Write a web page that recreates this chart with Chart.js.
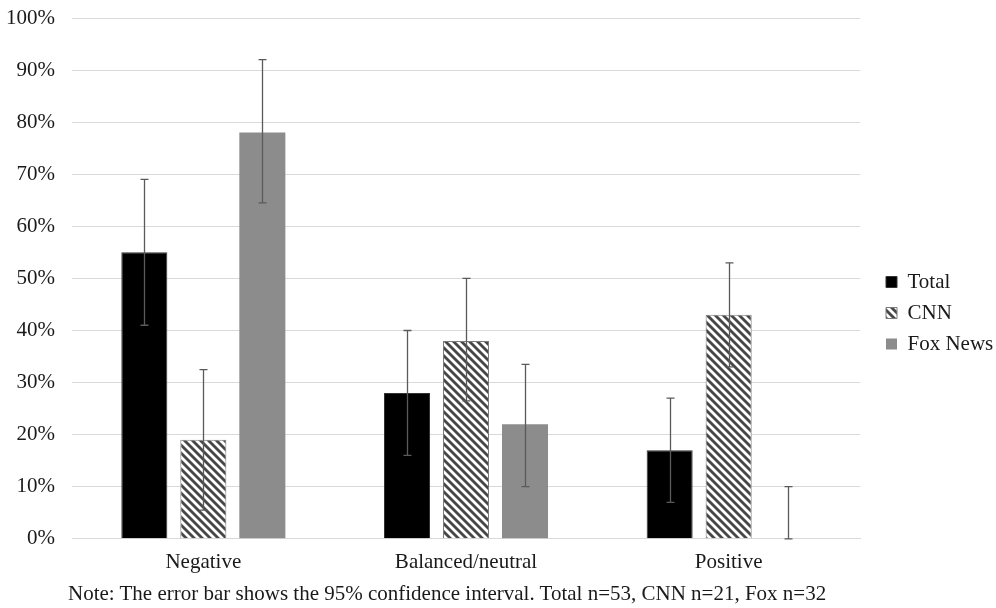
<!DOCTYPE html>
<html>
<head>
<meta charset="utf-8">
<script src="https://cdn.jsdelivr.net/npm/chart.js@4.4.1/dist/chart.umd.min.js"></script>
<style>
    body { margin: 0; background: #fff; }
    #contenedor { position: relative; width: 996px; height: 608px; }
    #nota {
        position: absolute; left: 68px; top: 580px;
        font: 21px 'Liberation Serif', serif; color: #1a1a1a;
        white-space: nowrap; line-height: 26px;
    }
</style>
</head>
<body>
<div id="contenedor">
    <canvas id="graficoTono"></canvas>
    <div id="nota">Note: The error bar shows the 95% confidence interval. Total n=53, CNN n=21, Fox n=32</div>
</div>
<script>
const categorias = ['Negative', 'Balanced/neutral', 'Positive'];

const total = [55, 28, 17];
const totalBajo = [41, 16, 7];
const totalAlto = [69, 40, 27];

const cnn = [19, 38, 43];
const cnnBajo = [5.5, 26.5, 33];
const cnnAlto = [32.5, 50, 53];

const fox = [78, 22, 0];
const foxBajo = [64.5, 10, 0];
const foxAlto = [92, 33.5, 10];

const etiquetasY = ['0%', '10%', '20%', '30%', '40%', '50%', '60%', '70%', '80%', '90%', '100%'];

const fuente = "'Liberation Serif', 'Times New Roman', serif";

function crearRayado() {
    const c = document.createElement('canvas');
    c.width = 8;
    c.height = 8;
    const g = c.getContext('2d');
    g.fillStyle = '#fff';
    g.fillRect(0, 0, 8, 8);
    g.strokeStyle = '#474747';
    g.lineWidth = 2.8;
    [-8, 0, 8].forEach(k => {
        g.beginPath();
        g.moveTo(k - 2, -2);
        g.lineTo(k + 10, 10);
        g.stroke();
    });
    return g.createPattern(c, 'repeat');
}

// dibuja los intervalos de confianza encima de cada barra
const barrasError = {
    id: 'barrasError',
    afterDatasetsDraw(chart) {
        const ctx = chart.ctx;
        const y = chart.scales.y;
        ctx.save();
        ctx.strokeStyle = '#5a5a5a';
        ctx.lineWidth = 1.3;
        chart.data.datasets.forEach((ds, i) => {
            chart.getDatasetMeta(i).data.forEach((barra, j) => {
                const x = Math.round(barra.x) + 0.5;
                const arriba = y.getPixelForValue(ds.errAlto[j]);
                const abajo = y.getPixelForValue(ds.errBajo[j]);
                ctx.beginPath();
                ctx.moveTo(x, arriba);
                ctx.lineTo(x, abajo);
                ctx.moveTo(x - 4, arriba);
                ctx.lineTo(x + 4, arriba);
                ctx.moveTo(x - 4, abajo);
                ctx.lineTo(x + 4, abajo);
                ctx.stroke();
            });
        });
        ctx.restore();
    }
};

const ajusteLeyenda = {
    id: 'ajusteLeyenda',
    beforeInit(chart) {
        const fitOriginal = chart.legend.fit;
        chart.legend.fit = function () {
            fitOriginal.bind(chart.legend)();
            this.width = 136;
        };
    },
    afterLayout(chart) {
        chart.legend.top += 11;
        chart.legend.bottom += 11;
        chart.legend.left += 16;
        chart.legend.right += 16;
    }
};

document.addEventListener('DOMContentLoaded', () => {
    const ctx = document.getElementById('graficoTono').getContext('2d');
    const rayado = crearRayado();

    new Chart(ctx, {
        type: 'bar',
        data: {
            labels: categorias,
            datasets: [
                {
                    label: 'Total',
                    data: total,
                    errBajo: totalBajo,
                    errAlto: totalAlto,
                    backgroundColor: '#000',
                    borderColor: '#333',
                    borderWidth: 1
                },
                {
                    label: 'CNN',
                    data: cnn,
                    errBajo: cnnBajo,
                    errAlto: cnnAlto,
                    backgroundColor: rayado,
                    borderColor: '#7a7a7a',
                    borderWidth: 1
                },
                {
                    label: 'Fox News',
                    data: fox,
                    errBajo: foxBajo,
                    errAlto: foxAlto,
                    backgroundColor: '#8c8c8c',
                    borderColor: '#8c8c8c',
                    borderWidth: 0
                }
            ]
        },
        options: {
            responsive: true,
            maintainAspectRatio: false,
            animation: false,
            datasets: {
                bar: {
                    categoryPercentage: 0.674,
                    barPercentage: 0.78
                }
            },
            layout: {
                padding: { top: 18, bottom: 22, left: 0, right: 0 }
            },
            plugins: {
                legend: {
                    position: 'right',
                    labels: {
                        boxWidth: 11,
                        boxHeight: 11,
                        padding: 10,
                        color: '#1a1a1a',
                        font: { family: fuente, size: 21 }
                    }
                },
                tooltip: { enabled: false }
            },
            scales: {
                y: {
                    min: 0,
                    max: 100,
                    afterFit(escala) {
                        escala.width = 72;
                        escala.paddingTop = 0;
                        escala.paddingBottom = 0;
                    },
                    ticks: {
                        stepSize: 10,
                        padding: 17,
                        color: '#1a1a1a',
                        font: { family: fuente, size: 21 },
                        callback: (valor, i) => etiquetasY[i]
                    },
                    grid: {
                        color: '#d9d9d9',
                        drawTicks: false
                    },
                    border: { display: false }
                },
                x: {
                    grid: { display: false, drawTicks: false },
                    border: { display: true, color: '#d9d9d9' },
                    ticks: {
                        padding: 11,
                        color: '#1a1a1a',
                        font: { family: fuente, size: 21 }
                    }
                }
            }
        },
        plugins: [barrasError, ajusteLeyenda]
    });
});
</script>
</body>
</html>
